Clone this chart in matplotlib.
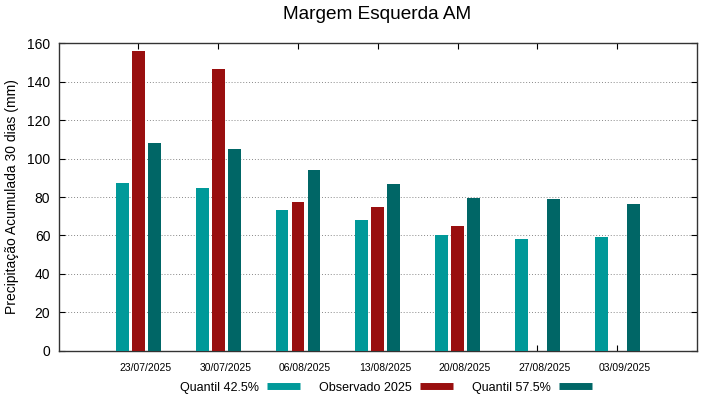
import matplotlib
matplotlib.use("Agg")
import matplotlib.pyplot as plt
import matplotlib.transforms as mtrans
from matplotlib.lines import Line2D
import numpy as np

plt.rcParams['font.family'] = ['Liberation Sans', 'DejaVu Sans']

#---------------------------------------#
# DATA
#---------------------------------------#
dates = ["23/07/2025", "30/07/2025", "06/08/2025", "13/08/2025",
         "20/08/2025", "27/08/2025", "03/09/2025"]
quantil_425 = [87.5, 84.5, 73.2, 67.9, 60.4, 58.3, 59.2]
observado_2025 = [155.8, 146.8, 77.4, 75.0, 64.9, np.nan, np.nan]
quantil_575 = [108.1, 105.0, 94.1, 86.6, 79.5, 79.0, 76.5]

series_names = ["Quantil 42.5%", "Observado 2025", "Quantil 57.5%"]
series_colors = ["#009999", "#990f0f", "#006666"]
#---------------------------------------#

fig = plt.figure(figsize=(7.19, 3.99), dpi=100)
ax = fig.add_axes([0.0816, 0.121, 0.8878, 0.7705])

x = np.arange(1, len(dates) + 1)
offsets = [-0.2, 0.0, 0.2]
width = 0.16
for vals, off, col in zip([quantil_425, observado_2025, quantil_575], offsets, series_colors):
    ax.bar(x + off, vals, width=width, color=col, zorder=3)

ax.set_xlim(0, 8)
ax.set_ylim(0, 160)
ax.set_xticks(x)
ax.set_xticklabels(dates, fontsize=7.5)
ax.set_yticks(np.arange(0, 161, 20))
ax.tick_params(axis='y', labelsize=10)
ax.tick_params(direction='in', top=True, right=True, length=4, width=0.8, pad=6)
ax.tick_params(axis='x', pad=9)
ax.yaxis.grid(True, linestyle=(0, (1, 2)), color='#888888', linewidth=0.7, zorder=0)

# gnuplot puts the date labels a bit to the right of the ticks
shift = mtrans.ScaledTranslation(7 / 100, 0, fig.dpi_scale_trans)
for lbl in ax.get_xticklabels():
    lbl.set_transform(lbl.get_transform() + shift)

for sp in ax.spines.values():
    sp.set_linewidth(1.0)
    sp.set_color('#333333')

ax.set_ylabel("Precipitação Acumulada 30 dias (mm)", fontsize=10, labelpad=6)
fig.suptitle("Margem Esquerda AM", fontsize=13.7, x=0.525, y=0.985)

handles = [Line2D([0], [0], color=c, lw=5, solid_capstyle='butt') for c in series_colors]
fig.legend(handles, series_names, loc='center', bbox_to_anchor=(0.537, 0.028),
           ncol=3, frameon=False, markerfirst=False, fontsize=9,
           handlelength=2.65, handletextpad=0.65, columnspacing=1.5)

fig.savefig("out.png", dpi=100)
